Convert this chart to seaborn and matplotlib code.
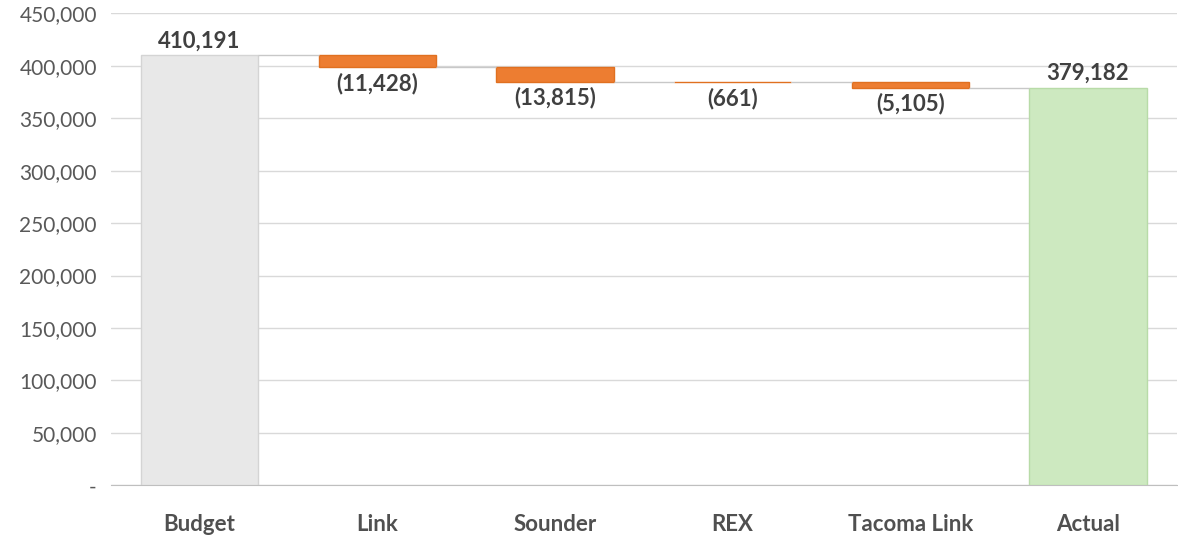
import numpy as np
import pandas as pd
import seaborn as sns
import matplotlib.pyplot as plt
from matplotlib.ticker import FuncFormatter

categories = ["Budget", "Link", "Sounder", "REX", "Tacoma Link", "Actual"]
changes = [410191, -11428, -13815, -661, -5105, 379182]
labels = ["410,191", "(11,428)", "(13,815)", "(661)", "(5,105)", "379,182"]

# running totals for the floating bars
start = [0]
level = changes[0]
tops = [changes[0]]
for c in changes[1:-1]:
    start.append(level + c)
    tops.append(level)
    level += c
start.append(0)
tops.append(changes[-1])
heights = [t - s for s, t in zip(start, tops)]

df = pd.DataFrame({"cat": categories, "bottom": start, "height": heights})

sns.set_style("white")
plt.rcParams["font.family"] = ["Lato", "DejaVu Sans"]

fig, ax = plt.subplots(figsize=(11.78, 5.35), dpi=100)
fig.subplots_adjust(left=0.094, right=0.999, top=0.975, bottom=0.093)

colors = ["#e8e8e8", "#ed7d31", "#ed7d31", "#ed7d31", "#ed7d31", "#cde9c0"]
edges = ["#d4d4d4", "#e07020", "#e07020", "#e07020", "#e07020", "#b8dba8"]
sns.barplot(data=df, x="cat", y="height", bottom=df["bottom"].values,
            color="#ed7d31", width=0.66, ax=ax, zorder=3, errorbar=None)
for p, fc, ec in zip(ax.patches, colors, edges):
    p.set_facecolor(fc)
    p.set_edgecolor(ec)
    p.set_linewidth(1)

# connectors
level = changes[0]
for i in range(len(categories) - 1):
    ax.hlines(level, i + 0.33, i + 1 - 0.33, color="#c8c8c8", lw=1, zorder=4)
    if i + 1 < len(categories) - 1:
        level += changes[i + 1]

# value labels
for i, lab in enumerate(labels):
    if i in (0, len(labels) - 1):
        ax.text(i, tops[i] + 3500, lab, ha="center", va="bottom",
                fontsize=16, fontweight="bold", color="#404040")
    else:
        ax.text(i, start[i] - 5000, lab, ha="center", va="top",
                fontsize=16, fontweight="bold", color="#404040")

ax.set_ylim(0, 450000)
ax.set_xlim(-0.5, 5.5)
ax.set_yticks(np.arange(0, 450001, 50000))
ax.yaxis.set_major_formatter(FuncFormatter(lambda v, p: "-" if v == 0 else f"{int(v):,}"))
ax.grid(axis="y", color="#d9d9d9", lw=1, zorder=0)
ax.set_axisbelow(True)
for s in ["top", "right", "left"]:
    ax.spines[s].set_visible(False)
ax.spines["bottom"].set_color("#bfbfbf")
ax.set_xlabel("")
ax.set_ylabel("")
ax.tick_params(axis="y", labelsize=15, colors="#595959", length=0, pad=10)
ax.tick_params(axis="x", labelsize=16, colors="#505050", length=0, pad=21)
for t in ax.get_xticklabels():
    t.set_fontweight("bold")

plt.savefig("out.png", dpi=100)
